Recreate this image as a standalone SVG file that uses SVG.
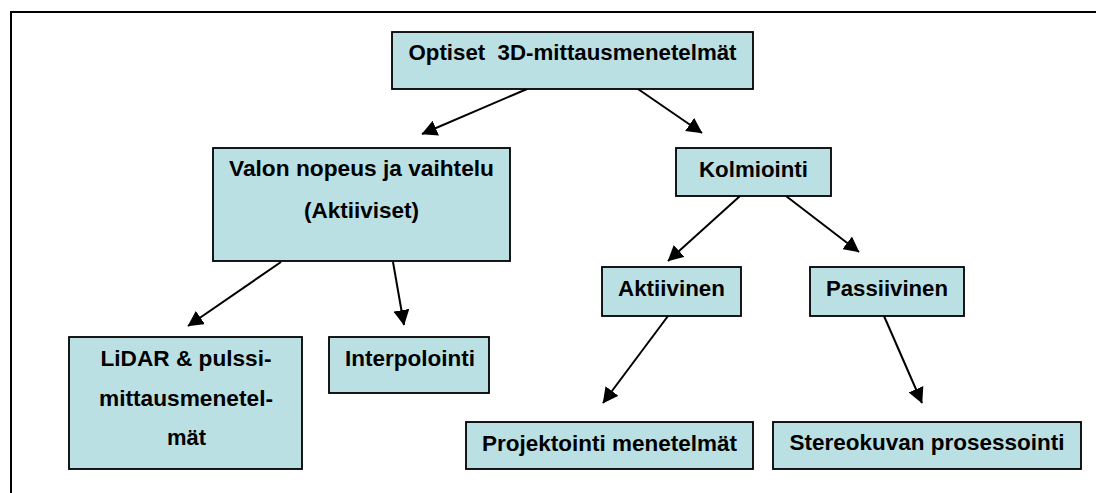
<svg xmlns="http://www.w3.org/2000/svg" width="1096" height="493" viewBox="0 0 1096 493">
  <style>
    .box { fill: #BBE0E3; stroke: #000; stroke-width: 1.8; }
    .lbl { font-family: "Liberation Sans", Arial, sans-serif; font-weight: bold; font-size: 22px; fill: #000; text-anchor: middle; }
    .conn { stroke: #000; stroke-width: 2; fill: none; marker-end: url(#arrow); }
  </style>
  <defs>
    <marker id="arrow" markerUnits="userSpaceOnUse" markerWidth="16" markerHeight="16" refX="15" refY="8" orient="auto">
      <path d="M0,0 L15.5,8 L0,16 z" fill="#000"/>
    </marker>
  </defs>
  <rect width="1096" height="493" fill="#fff"/>
  <path d="M11,493 L11,12 L1096,12" fill="none" stroke="#000" stroke-width="2"/>

  <g id="connectors">
    <line class="conn" x1="527" y1="89" x2="422" y2="134"/>
    <line class="conn" x1="638" y1="89" x2="702" y2="133"/>
    <line class="conn" x1="740" y1="196" x2="668" y2="261"/>
    <line class="conn" x1="786" y1="196" x2="859" y2="252"/>
    <line class="conn" x1="281" y1="262" x2="188" y2="326"/>
    <line class="conn" x1="393" y1="262" x2="404" y2="325"/>
    <line class="conn" x1="668" y1="316" x2="603" y2="403"/>
    <line class="conn" x1="884" y1="316" x2="922" y2="403"/>
  </g>

  <g id="n-optiset">
    <rect class="box" x="392" y="32" width="361" height="57"/>
    <text class="lbl" x="572.5" y="60" xml:space="preserve" textLength="328" lengthAdjust="spacingAndGlyphs">Optiset  3D-mittausmenetelmät</text>
  </g>
  <g id="n-valon">
    <rect class="box" x="213" y="148" width="297" height="113"/>
    <text class="lbl" x="361.5" y="176" textLength="265" lengthAdjust="spacingAndGlyphs">Valon nopeus ja vaihtelu</text>
    <text class="lbl" x="361.5" y="218" textLength="115" lengthAdjust="spacingAndGlyphs">(Aktiiviset)</text>
  </g>
  <g id="n-kolmiointi">
    <rect class="box" x="676" y="148" width="155" height="48"/>
    <text class="lbl" x="753.5" y="177" textLength="109" lengthAdjust="spacingAndGlyphs">Kolmiointi</text>
  </g>
  <g id="n-aktiivinen">
    <rect class="box" x="602" y="267" width="139" height="49"/>
    <text class="lbl" x="671.5" y="296" textLength="107" lengthAdjust="spacingAndGlyphs">Aktiivinen</text>
  </g>
  <g id="n-passiivinen">
    <rect class="box" x="810" y="267" width="154" height="49"/>
    <text class="lbl" x="887" y="296" textLength="122" lengthAdjust="spacingAndGlyphs">Passiivinen</text>
  </g>
  <g id="n-lidar">
    <rect class="box" x="69" y="337" width="233" height="132"/>
    <text class="lbl" x="186" y="366" textLength="171" lengthAdjust="spacingAndGlyphs">LiDAR &amp; pulssi-</text>
    <text class="lbl" x="186" y="406" textLength="174" lengthAdjust="spacingAndGlyphs">mittausmenetel-</text>
    <text class="lbl" x="186.5" y="445" textLength="39" lengthAdjust="spacingAndGlyphs">mät</text>
  </g>
  <g id="n-interpolointi">
    <rect class="box" x="329" y="337" width="160" height="56"/>
    <text class="lbl" x="410" y="366" textLength="130" lengthAdjust="spacingAndGlyphs">Interpolointi</text>
  </g>
  <g id="n-projektointi">
    <rect class="box" x="466" y="422" width="287" height="47"/>
    <text class="lbl" x="609.5" y="451" textLength="255" lengthAdjust="spacingAndGlyphs">Projektointi menetelmät</text>
  </g>
  <g id="n-stereo">
    <rect class="box" x="773" y="422" width="308" height="47"/>
    <text class="lbl" x="927" y="450" textLength="275" lengthAdjust="spacingAndGlyphs">Stereokuvan prosessointi</text>
  </g>
</svg>
